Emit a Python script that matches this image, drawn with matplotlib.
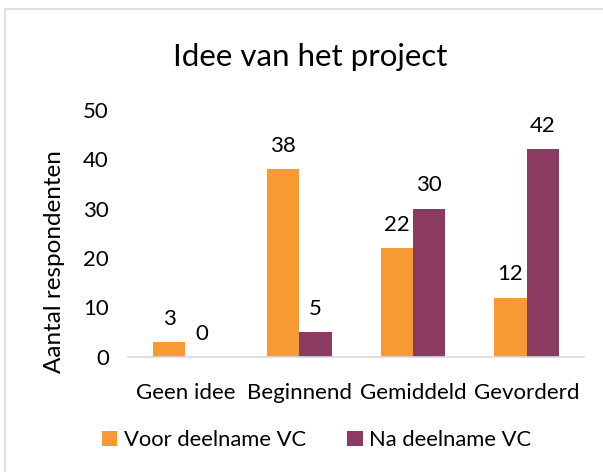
import matplotlib.pyplot as plt
from matplotlib.patches import Rectangle
import numpy as np

plt.rcParams['font.family'] = ['Lato', 'DejaVu Sans']

categories = ["Geen idee", "Beginnend", "Gemiddeld", "Gevorderd"]
voor = [3, 38, 22, 12]
na = [0, 5, 30, 42]
series_names = ["Voor deelname VC", "Na deelname VC"]

orange = "#F79A33"
purple = "#8B3A62"

fig = plt.figure(figsize=(6.03, 4.72), dpi=100)
fig.patches.append(Rectangle((5 / 603, -0.01), 1.0, 1 - 9 / 472 + 0.01,
                             transform=fig.transFigure, fill=False,
                             edgecolor="#d9d9d9", linewidth=1.2))
ax = fig.add_axes([0.213, 0.244, 0.755, 0.523])

x = np.arange(len(categories))
w = 0.285
b1 = ax.bar(x - w / 2, voor, w, color=orange, label=series_names[0])
b2 = ax.bar(x + w / 2, na, w, color=purple, label=series_names[1])

for bars in (b1, b2):
    for r in bars:
        ax.text(r.get_x() + r.get_width() / 2, r.get_height() + 2.7,
                str(int(r.get_height())), ha="center", va="bottom", fontsize=16)

ax.set_ylim(0, 50)
ax.set_xlim(-0.5, 3.5)
ax.set_yticks(range(0, 51, 10))
ax.set_xticks(x)
ax.set_xticklabels(categories, fontsize=16)
ax.tick_params(axis="y", labelsize=16, length=0, pad=14)
ax.tick_params(axis="x", length=0, pad=19)
for s in ("top", "right", "left"):
    ax.spines[s].set_visible(False)
ax.spines["bottom"].set_color("#d9d9d9")
ax.spines["bottom"].set_linewidth(1.2)

ax.set_ylabel("Aantal respondenten", fontsize=17.5)
ax.yaxis.set_label_coords(-0.14, 0.385)
fig.text(0.514, 0.88, "Idee van het project", ha="center", va="center", fontsize=22.5)

fig.legend(handles=[b1, b2], loc="center", bbox_to_anchor=(0.525, 0.068), ncol=2,
           frameon=False, fontsize=15.8, handlelength=0.7, handleheight=0.7,
           handletextpad=0.3, columnspacing=1.9)

fig.savefig("out.png", dpi=100)
